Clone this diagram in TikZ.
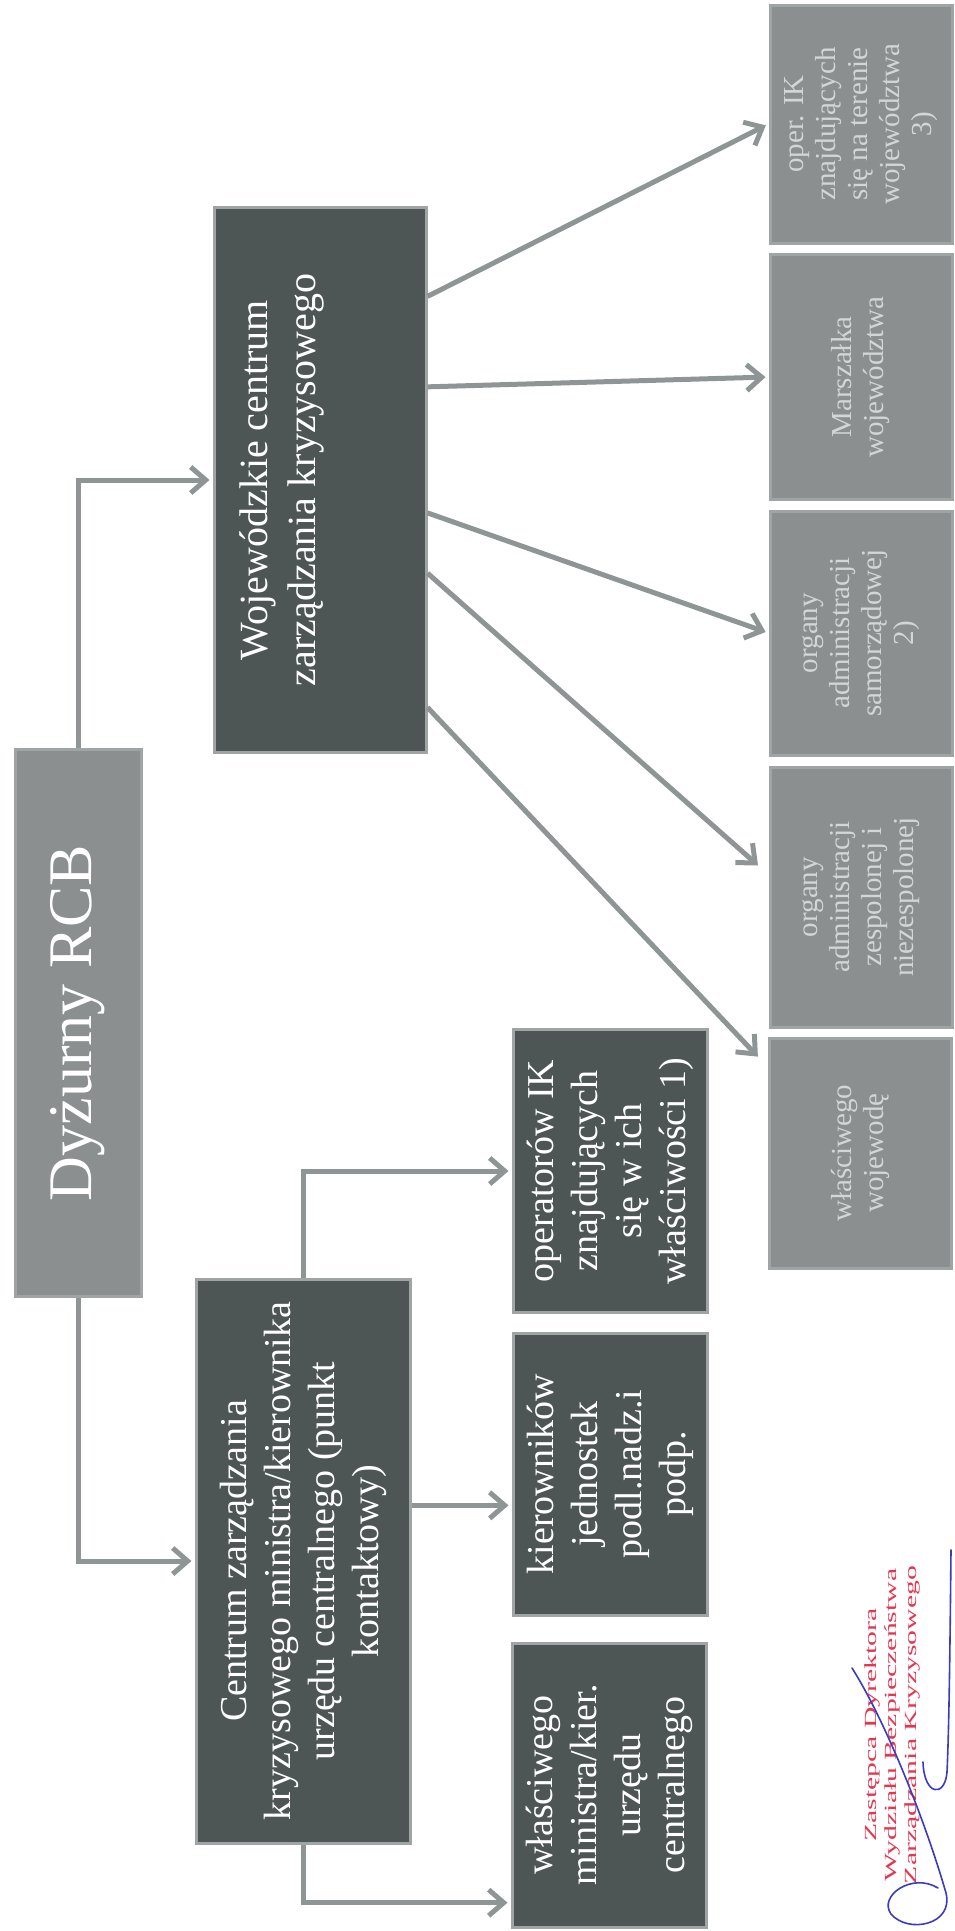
\documentclass[tikz,border=0pt]{standalone}
\usepackage{fontspec}
\setmainfont{Liberation Serif}
\usetikzlibrary{arrows.meta,calc}

\definecolor{darkbox}{HTML}{4E5555}
\definecolor{greybox}{HTML}{8B8F8F}
\definecolor{edgegrey}{HTML}{A0A4A4}
\definecolor{linegrey}{HTML}{8F9595}
\definecolor{paletext}{HTML}{D3D6D6}
\definecolor{stampred}{HTML}{E5364F}
\definecolor{inkblue}{HTML}{3A3AC4}

\tikzset{
  box/.style = {draw=edgegrey, line width=3pt, rotate=90, align=center, inner sep=4pt},
  dark/.style = {box, fill=darkbox, text=white, font=\fontsize{38}{44}\selectfont},
  grey/.style = {box, fill=greybox, text=paletext, font=\fontsize{29}{32}\selectfont, minimum height=182pt},
  arr/.style = {draw=linegrey, line width=5pt, -{Straight Barb[length=15pt,width=26pt]}, shorten >=3pt},
  stampbox/.style = {rotate=90, xscale=1.75, align=center, text=stampred, font=\fontsize{17}{20}\selectfont},
  ink/.style = {draw=inkblue, line width=1.6pt, line cap=round}
}

\begin{document}
\begin{tikzpicture}[x=1pt, y=-1pt]
\useasboundingbox (0,0) rectangle (954,1931);

% gorny poziom
\node[box, fill=greybox, text=white, minimum width=547pt, minimum height=126pt,
  font=\fontsize{62}{70}\selectfont] (dyz) at (78,1023) {Dyżurny RCB};
\node[dark, minimum width=545pt, minimum height=212pt, text depth=85pt,
  font=\fontsize{40}{48}\selectfont] (woj) at (320,480) {Wojewódzkie centrum\\zarządzania kryzysowego};
\node[dark, minimum width=564pt, minimum height=214pt] (centrum) at (303,1561)
  {Centrum zarządzania\\kryzysowego ministra/kierownika\\urzędu centralnego (punkt\\kontaktowy)};

% ministerstwo
\node[dark, minimum width=283pt, minimum height=194pt] (oper) at (610,1171) {operatorów IK\\znajdujących\\się w ich\\właściwości 1)};
\node[dark, minimum width=282pt, minimum height=194pt] (kier) at (610,1474) {kierowników\\jednostek\\podl.nadz.i\\podp.};
\node[dark, minimum width=284pt, minimum height=194pt] (wlmin) at (609,1785) {właściwego\\ministra/kier.\\urzędu\\centralnego};

% wojewodztwo
\node[grey, minimum width=238pt] (operik) at (861,124) {oper. IK\\znajdujących\\się na terenie\\województwa\\3)};
\node[grey, minimum width=245pt] (marsz) at (861,377) {Marszałka\\województwa};
\node[grey, minimum width=244pt] (samorz) at (861,633) {organy\\administracji\\samorządowej\\2)};
\node[grey, minimum width=260pt] (zesp) at (861,897) {organy\\administracji\\zespolonej i\\niezespolonej};
\node[grey, minimum width=230pt] (wojewoda) at (860,1153) {właściwego\\wojewodę};

\draw[arr] (dyz.east) |- (woj.north);
\draw[arr] (dyz.west) |- (centrum.north);
\draw[arr] (centrum.east) |- (oper.north);
\coordinate (kierin) at ($(kier.north east)!0.61!(kier.north west)$);
\draw[arr] (centrum.south |- kierin) -- (kierin);
\coordinate (minin) at ($(wlmin.north east)!0.91!(wlmin.north west)$);
\draw[arr] (centrum.west) |- (minin);

\draw[arr] ($(woj.south east)!0.165!(woj.south west)$) -- (operik.north);
\draw[arr] ($(woj.south east)!0.33!(woj.south west)$) -- (marsz.north);
\draw[arr] ($(woj.south east)!0.56!(woj.south west)$) -- (samorz.north);
\draw[arr, shorten >=14pt] ($(woj.south east)!0.67!(woj.south west)$) -- ($(zesp.north east)!0.415!(zesp.north west)$);
\draw[arr, shorten >=14pt] ($(woj.south east)!0.915!(woj.south west)$) -- ($(wojewoda.north east)!0.13!(wojewoda.north west)$);

% pieczatka
\node[stampbox] (stamp) at (892,1725) {Zastępca Dyrektora\\Wydziału Bezpieczeństwa\\Zarządzania Kryzysowego};
\draw[ink] (951,1550) .. controls (950,1650) and (949,1730) .. (947,1772) .. controls (945,1798) and (924,1796) .. (923,1762);
\draw[ink] (852,1668) .. controls (885,1720) and (925,1820) .. (946,1893) .. controls (954,1925) and (908,1934) .. (891,1914) .. controls (878,1896) and (912,1872) .. (938,1888);
\end{tikzpicture}
\end{document}
